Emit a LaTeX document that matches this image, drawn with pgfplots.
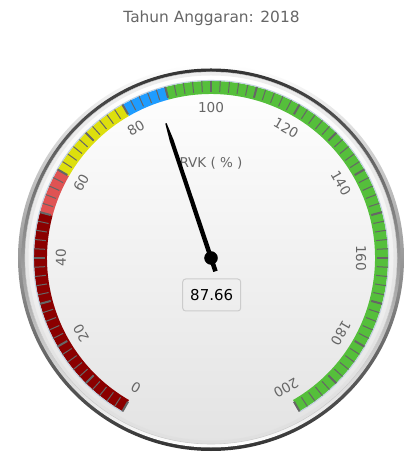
\documentclass[border=0pt]{standalone}
\usepackage{fontspec}
\setmainfont{DejaVu Sans}
\usepackage{pgfplots}
\pgfplotsset{compat=1.18}
\definecolor{gDarkRed}{HTML}{8B0000}
\definecolor{gRed}{HTML}{DF5353}
\definecolor{gYellow}{HTML}{DDDF0D}
\definecolor{gBlue}{HTML}{1E9CFF}
\definecolor{gGreen}{HTML}{55BF3B}
\definecolor{c333}{HTML}{333333}
\definecolor{c666}{HTML}{666666}
\definecolor{cDDD}{HTML}{DDDDDD}
\definecolor{cBot}{HTML}{E3E3E3}
\definecolor{cCCC}{HTML}{CCCCCC}
\definecolor{cAxis}{HTML}{C0D0E0}
% gauge geometry (pixels): centre, band radii
\newcommand\cx{211}
\newcommand\cy{194}
\newcommand\rout{177}
\newcommand\rin{164}
% value -> angle (deg, ccw from +x): 0 at 240, 200 at -60
\newcommand\gband[3]{%
  \fill[#3] (axis cs:\cx,\cy) ++({240-1.5*#1}:\rout bp)
    arc[start angle={240-1.5*#1}, end angle={240-1.5*#2}, radius=\rout bp]
    -- ++({60-1.5*#2}:13bp)
    arc[start angle={240-1.5*#2}, end angle={240-1.5*#1}, radius=\rin bp] -- cycle;}
\newcommand\gaugevalue{87.66}
\begin{document}
\begin{tikzpicture}
\begin{axis}[x=1bp,y=1bp,xmin=0,xmax=414,ymin=0,ymax=452,hide axis,clip=false]
\fill[white] (axis cs:0,0) rectangle (axis cs:414,452);
% title
\node[anchor=base, text=c666, font=\fontsize{15.4bp}{18bp}\selectfont, inner sep=0pt] at (axis cs:211.5,429.5) {Tahun Anggaran: 2018};
% pane background
\shade[top color=white, bottom color=c333] (axis cs:\cx,\cy) circle[radius=193bp];
\shade[top color=c333, bottom color=white] (axis cs:\cx,\cy) circle[radius=189.5bp];
\shadedraw[top color=white, bottom color=cBot, draw=cCCC, line width=0.6bp] (axis cs:\cx,\cy) circle[radius=186bp];
\draw[cDDD, opacity=0.5, line width=3bp] (axis cs:\cx,\cy) circle[radius=184bp];
% plot bands
\gband{0}{50}{gDarkRed}
\gband{50}{60}{gRed}
\gband{60}{80}{gYellow}
\gband{80}{90}{gBlue}
\gband{90}{200}{gGreen}
% axis line
\draw[cAxis, line width=1bp] (axis cs:\cx,\cy) ++(240:177.5bp) arc[start angle=240, end angle=-60, radius=177.5bp];
% minor ticks
\pgfplotsinvokeforeach{0,2,...,200}{
  \draw[c666, line width=1bp] (axis cs:\cx,\cy) ++({240-1.5*#1}:\rout bp) -- ++({60-1.5*#1}:11bp);
}
% major ticks
\pgfplotsinvokeforeach{0,10,...,200}{
  \draw[c666, line width=2bp] (axis cs:\cx,\cy) ++({240-1.5*#1}:\rout bp) -- ++({60-1.5*#1}:11bp);
}
% tick labels
\pgfplotsinvokeforeach{0,20,...,200}{
  \path (axis cs:\cx,\cy) ++({240-1.5*#1}:150bp) node[rotate={150-1.5*#1}, text=c666, font=\fontsize{13.6bp}{16bp}\selectfont, inner sep=0pt] {#1};
}
% axis title
\node[text=c666, font=\fontsize{13.5bp}{16bp}\selectfont, inner sep=0pt] at (axis cs:211,289) {RVK ( \% )};
% needle
\pgfmathsetmacro\needleangle{240-1.5*\gaugevalue}
\fill[black, rotate around={\needleangle:(axis cs:\cx,\cy)}]
  (axis cs:\cx,\cy) ++(-14bp,-2.3bp) -- ++(138bp,0.3bp) -- ++(18bp,1.3bp) -- ++(0,1.4bp) -- ++(-18bp,1.3bp) -- ++(-138bp,0.3bp) -- cycle;
\addplot[only marks, mark=*, mark size=6.5bp, black] coordinates {(211,194)};
% data label
\node[draw=cCCC, line width=1bp, rounded corners=3bp, minimum width=58bp, minimum height=32bp, inner sep=0pt, font=\fontsize{15bp}{17bp}\selectfont] at (axis cs:211.7,157) {\gaugevalue};
\end{axis}
\end{tikzpicture}
\end{document}
